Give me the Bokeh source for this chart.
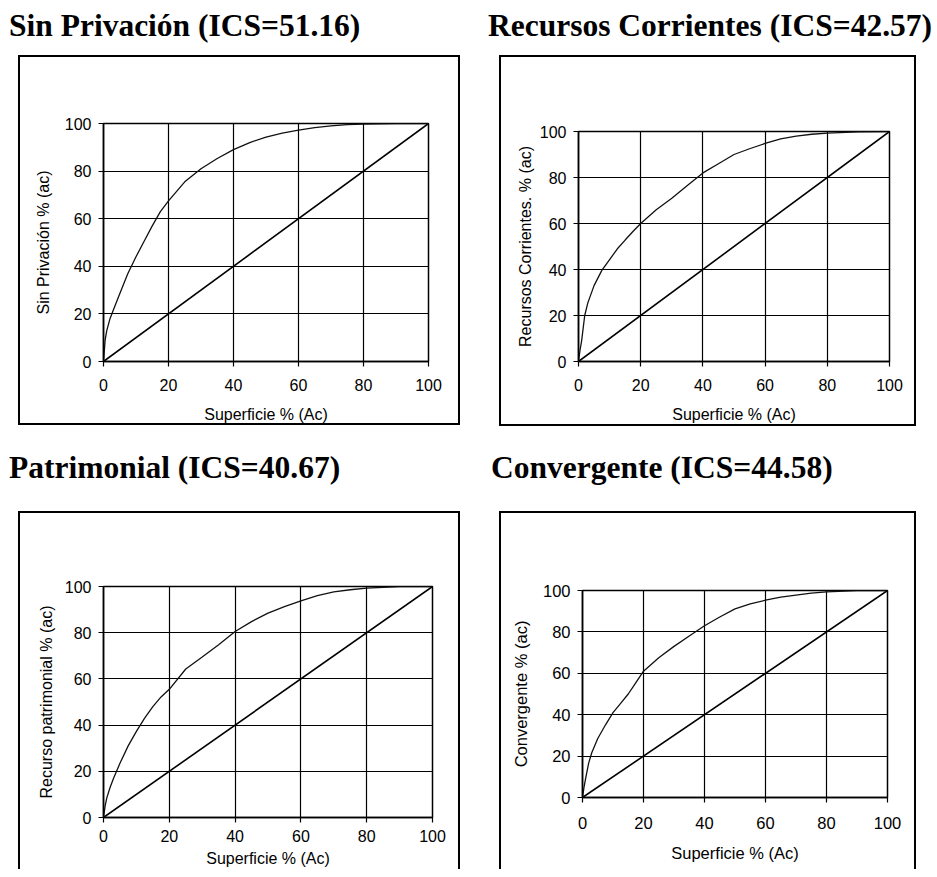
from bokeh.plotting import figure
from bokeh.models import Div, Range1d, FixedTicker
from bokeh.layouts import column, row
from bokeh.embed import file_html
from bokeh.resources import INLINE

# ---------------- data ----------------
superficie = [0, 0.5, 1, 2, 3, 5, 7.5, 10, 12.5, 15, 17.5, 20, 25, 30, 35,
              40, 45, 50, 55, 60, 65, 70, 75, 80, 90, 100]
sin_privacion = [0, 9, 13, 18, 21.5, 28.5, 37, 44, 50.5, 57, 63, 67.5, 75.5,
                 81, 85.3, 89, 92, 94.3, 96, 97.2, 98.3, 99, 99.5, 99.8, 100, 100]
recursos_corrientes = [0, 5, 9, 20, 25.5, 33, 39.6, 44.3, 49, 52.8, 56.5, 60,
                       66, 71, 76.5, 82, 86, 90, 92.5, 94.8, 96.8, 98, 98.8,
                       99.3, 99.8, 100]
patrimonial = [0, 5, 8.5, 13, 16.8, 23.5, 31, 37.3, 43, 48, 52.2, 55.5, 64.3,
               69.5, 74.8, 80.5, 84.8, 88.5, 91.3, 93.8, 96, 97.7, 98.6, 99.3,
               100, 100]
convergente = [0, 5, 9, 16.5, 21.5, 28.5, 35, 41, 45.5, 50, 55.5, 61, 67.5,
               73, 78, 83, 87.2, 91.1, 93.5, 95.3, 96.8, 97.8, 98.7, 99.3,
               99.9, 100]
equidad_x = [0, 100]
equidad_y = [0, 100]
ticks = [0, 20, 40, 60, 80, 100]

titles = ["Sin Privación (ICS=51.16)", "Recursos Corrientes (ICS=42.57)",
          "Patrimonial (ICS=40.67)", "Convergente (ICS=44.58)"]
ylabels = ["Sin Privación % (ac)", "Recursos Corrientes. % (ac)",
           "Recurso patrimonial % (ac)", "Convergente % (ac)"]
xlabel = "Superficie % (Ac)"

SANS = "Liberation Sans"
SERIF = "Liberation Serif"


def make_title(text, width, margin):
    return Div(text=text, width=width, height=40, margin=margin,
               styles={"font-family": SERIF, "font-weight": "bold",
                       "font-size": "31.5px", "line-height": "36px",
                       "color": "black", "white-space": "nowrap"})


def make_fig(yvals, ylabel, width, height, borders, fs, margin, open_bottom,
             xl_standoff=12, xt_standoff=12, yt_standoff=10):
    ml, mr, mt, mb = borders
    border = {"border-left": "2px solid black", "border-right": "2px solid black",
              "border-top": "2px solid black", "box-sizing": "content-box"}
    if not open_bottom:
        border["border-bottom"] = "2px solid black"
    p = figure(width=width, height=height, x_range=Range1d(0, 100),
               y_range=Range1d(0, 100), output_backend="svg",
               toolbar_location=None, min_border_left=ml,
               min_border_right=mr, min_border_top=mt,
               min_border_bottom=mb, margin=margin, styles=border)
    p.background_fill_color = "white"
    p.border_fill_color = "white"
    p.outline_line_color = "black"
    p.outline_line_width = 1.5
    for g in (p.xgrid, p.ygrid):
        g.ticker = FixedTicker(ticks=ticks)
        g.grid_line_color = "black"
        g.grid_line_width = 1.2
        g.grid_line_alpha = 1.0
    for ax in (p.xaxis, p.yaxis):
        ax.ticker = FixedTicker(ticks=ticks)
        ax.axis_line_color = "black"
        ax.axis_line_width = 1.5
        ax.major_tick_line_color = "black"
        ax.major_tick_line_width = 1.2
        ax.major_tick_in = 0
        ax.major_tick_out = 5
        ax.minor_tick_line_color = None
        ax.major_label_text_font = SANS
        ax.major_label_text_font_size = f"{fs}px"
        ax.major_label_text_color = "black"
        ax.axis_label_text_font = SANS
        ax.axis_label_text_font_size = f"{fs}px"
        ax.axis_label_text_font_style = "normal"
        ax.axis_label_text_color = "black"
    p.xaxis.major_label_standoff = xl_standoff
    p.yaxis.major_label_standoff = 7
    p.xaxis.axis_label = xlabel
    p.yaxis.axis_label = ylabel
    p.xaxis.axis_label_standoff = xt_standoff
    p.yaxis.axis_label_standoff = yt_standoff
    p.line(equidad_x, equidad_y, line_color="black", line_width=1.6)
    p.line(superficie, yvals, line_color="#111111", line_width=1.3)
    return p


t1 = make_title(titles[0], 440, (8, 0, 0, 9))
f1 = make_fig(sin_privacion, ylabels[0], 438, 366, (83, 34, 66, 66), 16,
              (7, 0, 0, 18), False)
t2 = make_title(titles[1], 445, (8, 0, 0, 28))
f2 = make_fig(recursos_corrientes, ylabels[1], 413, 367, (77, 29, 74, 67), 16,
              (7, 0, 0, 39), False, yt_standoff=3)
t3 = make_title(titles[2], 440, (24, 0, 0, 9))
f3 = make_fig(patrimonial, ylabels[2], 438, 356, (83, 30, 73, 54), 16,
              (21, 0, 0, 18), True, xl_standoff=7, xt_standoff=5, yt_standoff=7)
t4 = make_title(titles[3], 440, (24, 0, 0, 31))
f4 = make_fig(convergente, ylabels[3], 413, 356, (81, 31, 77, 74), 16.5,
              (21, 0, 0, 39), True, xl_standoff=14, xt_standoff=12)

layout = column(row(column(t1, f1), column(t2, f2)),
                row(column(t3, f3), column(t4, f4)))

open("out.html", "w").write(file_html(layout, INLINE))
